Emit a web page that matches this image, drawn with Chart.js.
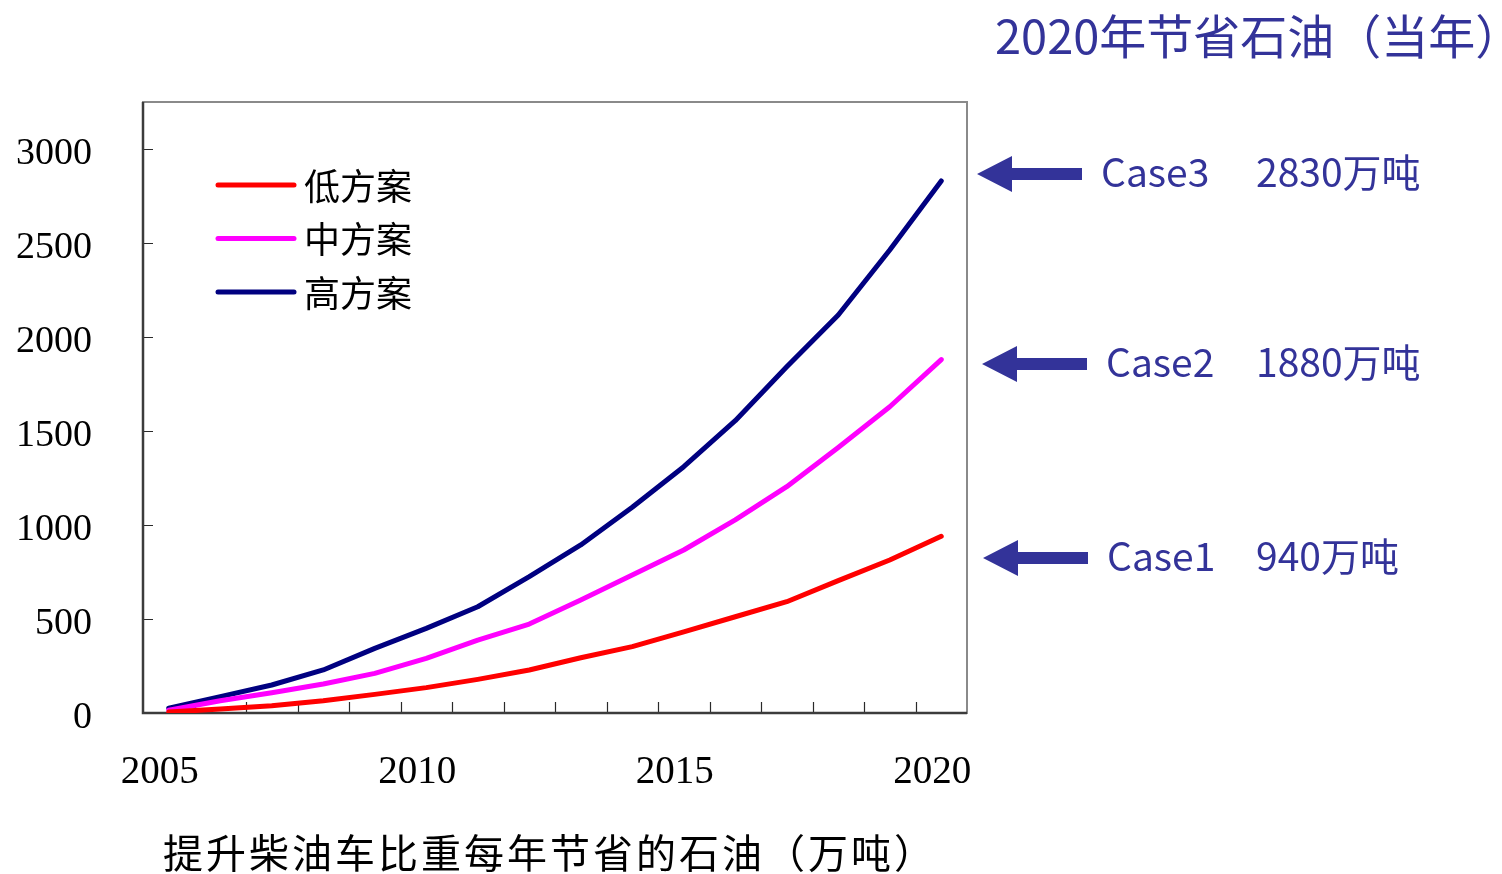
<!DOCTYPE html>
<html>
<head>
<meta charset="utf-8">
<script src="https://cdn.jsdelivr.net/npm/chart.js@4.4.0/dist/chart.umd.min.js"></script>
<style>
  html, body { margin: 0; padding: 0; background: #ffffff; }
  #wrap { width: 1502px; height: 874px; position: relative; }
</style>
</head>
<body>
<div id="wrap"><canvas id="c" width="1502" height="874"></canvas></div>
<script>
// Years on the category axis
const years = ['2005','2006','2007','2008','2009','2010','2011','2012',
               '2013','2014','2015','2016','2017','2018','2019','2020'];

// Annual oil saved (10k tonnes) for each scenario
const lowCase  = [5, 21, 39, 65, 99, 135, 179, 229, 294, 353, 432, 512, 592, 704, 814, 940];
const midCase  = [15, 65, 108, 154, 211, 291, 388, 473, 601, 734, 867, 1027, 1204, 1412, 1629, 1880];
const highCase = [25, 87, 149, 229, 344, 450, 565, 725, 894, 1094, 1310, 1555, 1842, 2117, 2463, 2830];

const seriesNames = ['低方案', '中方案', '高方案'];
const seriesColors = ['#ff0000', '#ff00ff', '#000080'];
const caseNames = ['Case1', 'Case2', 'Case3'];

// Value-axis ticks and range
const yTicks = [0, 500, 1000, 1500, 2000, 2500, 3000];
const yMax = 3250;

const headline = '2020年节省石油（当年）';
const xAxisTitle = '提升柴油车比重每年节省的石油（万吨）';
const unitText = '万吨';

const CJK = '"Noto Sans CJK SC", "Noto Sans", sans-serif';
const NUM = '"Liberation Serif", "DejaVu Serif", serif';
const NOTE_BLUE = '#333399';

// Frame, inward tick marks and axis lines around the plot area
const framePlugin = {
  id: 'frame',
  beforeDatasetsDraw(chart) {
    const { ctx, chartArea: a, scales: { x, y } } = chart;
    ctx.save();
    ctx.strokeStyle = '#8a8a8a';
    ctx.lineWidth = 2;
    ctx.strokeRect(a.left, a.top, a.right - a.left, a.bottom - a.top);

    ctx.strokeStyle = '#2a2a2a';
    ctx.lineWidth = 1.2;
    ctx.beginPath();
    y.ticks.forEach((t, i) => {
      const py = Math.round(y.getPixelForTick(i)) + 0.5;
      ctx.moveTo(a.left, py);
      ctx.lineTo(a.left + 10, py);
    });
    const half = (x.getPixelForValue(1) - x.getPixelForValue(0)) / 2;
    const start = x.getPixelForValue(0) - half;
    for (let k = 1; k < years.length; k++) {
      const px = Math.round(start + k * 2 * half) + 0.5;
      ctx.moveTo(px, a.bottom);
      ctx.lineTo(px, a.bottom - 11);
    }
    ctx.stroke();

    ctx.strokeStyle = '#3c3c3c';
    ctx.lineWidth = 2.5;
    ctx.beginPath();
    ctx.moveTo(a.left, a.top);
    ctx.lineTo(a.left, a.bottom);
    ctx.lineTo(a.right, a.bottom);
    ctx.stroke();
    ctx.restore();
  }
};

// Legend drawn inside the plot area, from the datasets themselves
const innerLegend = {
  id: 'innerLegend',
  afterDatasetsDraw(chart) {
    const { ctx } = chart;
    ctx.save();
    ctx.font = '36px ' + CJK;
    ctx.textBaseline = 'middle';
    ctx.fillStyle = '#000';
    chart.data.datasets.forEach((ds, i) => {
      const ly = 185 + i * 53.5;
      ctx.strokeStyle = ds.borderColor;
      ctx.lineWidth = 5;
      ctx.lineCap = 'round';
      ctx.beginPath();
      ctx.moveTo(218, ly);
      ctx.lineTo(294, ly);
      ctx.stroke();
      ctx.fillText(ds.label, 304, ly + 1);
    });
    ctx.restore();
  }
};

// Headline, scenario call-outs with arrows, and the bottom caption
const notesPlugin = {
  id: 'notes',
  afterDraw(chart) {
    const { ctx } = chart;
    ctx.save();
    ctx.fillStyle = NOTE_BLUE;
    ctx.textBaseline = 'middle';

    ctx.font = '47px ' + CJK;
    ctx.fillText(headline, 995, 36);

    const ends = [lowCase[lowCase.length - 1], midCase[midCase.length - 1], highCase[highCase.length - 1]];
    const rows = [
      { y: 558, tip: 983 },
      { y: 364, tip: 982 },
      { y: 174, tip: 977 }
    ];
    rows.forEach((r, i) => {
      const tip = r.tip, head = tip + 35, tail = tip + 105;
      ctx.beginPath();
      ctx.moveTo(tip, r.y);
      ctx.lineTo(head, r.y - 18);
      ctx.lineTo(head, r.y - 6);
      ctx.lineTo(tail, r.y - 6);
      ctx.lineTo(tail, r.y + 6);
      ctx.lineTo(head, r.y + 6);
      ctx.lineTo(head, r.y + 18);
      ctx.closePath();
      ctx.fill();
      ctx.font = '39px ' + CJK;
      ctx.fillText(caseNames[i], tail + 19, r.y - 2);
      ctx.fillText(ends[i] + unitText, 1256, r.y - 2);
    });

    ctx.fillStyle = '#000';
    ctx.font = '40px ' + CJK;
    ctx.letterSpacing = '3px';
    ctx.fillText(xAxisTitle, 163, 853);
    ctx.letterSpacing = '0px';
    ctx.restore();
  }
};

new Chart(document.getElementById('c'), {
  type: 'line',
  data: {
    labels: years,
    datasets: [
      { label: seriesNames[0], data: lowCase,  borderColor: seriesColors[0] },
      { label: seriesNames[1], data: midCase,  borderColor: seriesColors[1] },
      { label: seriesNames[2], data: highCase, borderColor: seriesColors[2] }
    ]
  },
  options: {
    responsive: false,
    animation: false,
    devicePixelRatio: 1,
    layout: { padding: { left: 0, top: 102, right: 535, bottom: 81 } },
    elements: {
      line: { borderWidth: 5, tension: 0, fill: false, borderCapStyle: 'round', borderJoinStyle: 'round' },
      point: { radius: 0, hoverRadius: 0 }
    },
    plugins: {
      legend: { display: false },
      tooltip: { enabled: false }
    },
    scales: {
      x: {
        type: 'category',
        offset: true,
        grid: { display: false, drawTicks: false },
        border: { display: false },
        ticks: {
          autoSkip: false,
          maxRotation: 0,
          padding: 36,
          labelOffset: -9,
          color: '#000',
          font: { family: NUM, size: 39 },
          callback: (v, i) => (Number(years[i]) % 5 === 0 ? years[i] : '')
        },
        afterFit: s => { s.height = 80; }
      },
      y: {
        min: 0,
        max: yMax,
        grid: { display: false, drawTicks: false },
        border: { display: false },
        ticks: {
          padding: 51,
          labelOffset: 5,
          color: '#000',
          font: { family: NUM, size: 38 },
          callback: v => String(v)
        },
        afterBuildTicks: s => { s.ticks = yTicks.map(v => ({ value: v })); },
        afterFit: s => { s.width = 143; }
      }
    }
  },
  plugins: [framePlugin, innerLegend, notesPlugin]
});
</script>
</body>
</html>
